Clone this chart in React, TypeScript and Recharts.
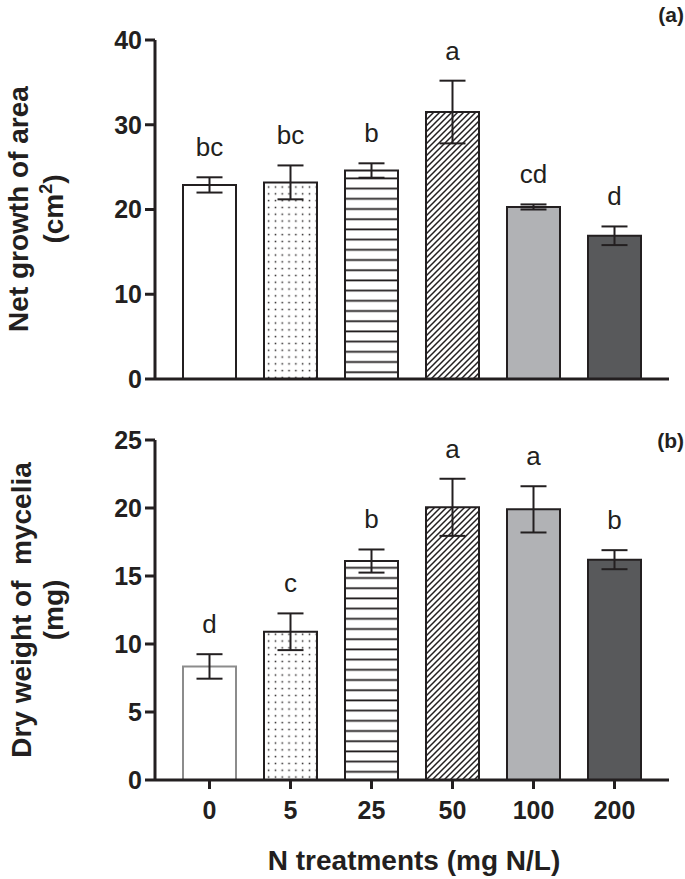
import { BarChart, Bar, XAxis, YAxis, ErrorBar, Cell, LabelList } from "recharts";

const treatments = ["0", "5", "25", "50", "100", "200"];

// (a) net growth of area, cm2
const areaMean = [22.9, 23.2, 24.6, 31.5, 20.3, 16.9];
const areaErr = [0.9, 2.0, 0.85, 3.7, 0.3, 1.1];
const areaLetters = ["bc", "bc", "b", "a", "cd", "d"];
const areaTicks = [0, 10, 20, 30, 40];

// (b) dry weight of mycelia, mg
const weightMean = [8.35, 10.9, 16.1, 20.05, 19.9, 16.2];
const weightErr = [0.9, 1.35, 0.85, 2.1, 1.7, 0.7];
const weightLetters = ["d", "c", "b", "a", "a", "b"];
const weightTicks = [0, 5, 10, 15, 20, 25];

const ink = "#231f20";
const font = "'Liberation Sans', Arial, Helvetica, sans-serif";

type Row = { name: string; mean: number; err: number; letter: string };

const toRows = (means: number[], errs: number[], letters: string[]): Row[] =>
  treatments.map((name, i) => ({ name, mean: means[i], err: errs[i], letter: letters[i] }));

function makeLetter(rows: Row[]) {
  return (props: any) => {
    const vb = props.viewBox || {};
    const x = Number(props.x ?? vb.x);
    const y = Number(props.y ?? vb.y);
    const w = Number(props.width ?? vb.width);
    const h = Number(props.height ?? vb.height);
    const row = rows[props.index];
    if (!row) return null;
    const capTop = y - (row.err / row.mean) * h;
    return (
      <text x={x + w / 2} y={capTop - 21} textAnchor="middle" fontSize={26} fill={ink} fontFamily={font}>
        {row.letter}
      </text>
    );
  };
}

function Panel({
  id,
  rows,
  ticks,
  height,
  margin,
  xHeight,
  showLabels,
  firstStroke,
}: {
  id: string;
  rows: Row[];
  ticks: number[];
  height: number;
  margin: { top: number; right: number; left: number; bottom: number };
  xHeight: number;
  showLabels: boolean;
  firstStroke: string;
}) {
  const fills = ["#ffffff", `url(#${id}-dots)`, `url(#${id}-lines)`, `url(#${id}-hatch)`, "#b1b2b5", "#58595b"];
  const tickStyle = { fontSize: 25, fontWeight: 700, fill: ink, fontFamily: font };
  return (
    <BarChart width={685} height={height} data={rows} margin={margin}>
      <defs>
        <pattern id={`${id}-dots`} width={6.8} height={6.8} patternUnits="userSpaceOnUse">
          <rect width={6.8} height={6.8} fill="#fff" />
          <rect x={2.7} y={2.7} width={1.5} height={1.5} fill={ink} />
        </pattern>
        <pattern id={`${id}-lines`} width={10} height={10.2} patternUnits="userSpaceOnUse">
          <rect width={10} height={10.2} fill="#fff" />
          <line x1={0} x2={10} y1={5} y2={5} stroke={ink} strokeWidth={1.8} />
        </pattern>
        <pattern id={`${id}-hatch`} width={6} height={6} patternUnits="userSpaceOnUse">
          <rect width={6} height={6} fill="#fff" />
          <path d="M-1,1 L1,-1 M0,6 L6,0 M5,7 L7,5" stroke={ink} strokeWidth={1.5} />
        </pattern>
      </defs>
      <XAxis
        dataKey="name"
        interval={0}
        height={xHeight}
        padding={{ left: 14, right: 14 }}
        axisLine={{ stroke: ink, strokeWidth: 3 }}
        tickLine={{ stroke: ink, strokeWidth: 3 }}
        tickSize={9}
        tickMargin={12}
        tick={showLabels ? tickStyle : false}
      />
      <YAxis
        type="number"
        width={60}
        domain={[0, ticks[ticks.length - 1]]}
        ticks={ticks}
        interval={0}
        axisLine={{ stroke: ink, strokeWidth: 3 }}
        tickLine={{ stroke: ink, strokeWidth: 3 }}
        tickSize={10}
        tickMargin={3}
        tick={tickStyle}
      />
      <Bar dataKey="mean" barSize={53} isAnimationActive={false}>
        {rows.map((r, i) => (
          <Cell key={r.name} fill={fills[i]} stroke={i === 0 ? firstStroke : ink} strokeWidth={2} />
        ))}
        <ErrorBar dataKey="err" width={13} stroke={ink} strokeWidth={2} isAnimationActive={false} />
        <LabelList dataKey="letter" content={makeLetter(rows)} />
      </Bar>
    </BarChart>
  );
}

export default function App() {
  const areaRows = toRows(areaMean, areaErr, areaLetters);
  const weightRows = toRows(weightMean, weightErr, weightLetters);
  const title = { fontFamily: font, fontWeight: 700, fill: ink } as const;

  return (
    <div style={{ position: "absolute", left: 0, top: 0, width: 685, height: 879, background: "#fff" }}>
      <div style={{ position: "absolute", left: 0, top: 0 }}>
        <Panel
          id="a"
          rows={areaRows}
          ticks={areaTicks}
          height={420}
          margin={{ top: 40, right: 16, left: 95, bottom: 21 }}
          xHeight={20}
          showLabels={false}
          firstStroke={ink}
        />
      </div>
      <div style={{ position: "absolute", left: 0, top: 420 }}>
        <Panel
          id="b"
          rows={weightRows}
          ticks={weightTicks}
          height={459}
          margin={{ top: 20, right: 16, left: 95, bottom: 39 }}
          xHeight={60}
          showLabels={true}
          firstStroke="#8c8c8c"
        />
      </div>
      <svg width={685} height={879} style={{ position: "absolute", left: 0, top: 0, pointerEvents: "none" }}>
        <text x={28} y={209} transform="rotate(-90 28 209)" textAnchor="middle" fontSize={28} {...title}>
          Net growth of area
        </text>
        <text x={63} y={209} transform="rotate(-90 63 209)" textAnchor="middle" fontSize={28} {...title}>
          (cm<tspan fontSize={18} dy={-11}>2</tspan>
          <tspan dy={11}>)</tspan>
        </text>
        <text x={31} y={610} transform="rotate(-90 31 610)" textAnchor="middle" fontSize={28} {...title}>
          {"Dry weight of\u00a0\u00a0mycelia"}
        </text>
        <text x={63} y={610} transform="rotate(-90 63 610)" textAnchor="middle" fontSize={28} {...title}>
          (mg)
        </text>
        <text x={414} y={870} textAnchor="middle" fontSize={28} {...title}>
          N treatments (mg N/L)
        </text>
        <text x={684} y={22} textAnchor="end" fontSize={21} {...title}>
          (a)
        </text>
        <text x={684} y={448} textAnchor="end" fontSize={21} {...title}>
          (b)
        </text>
      </svg>
    </div>
  );
}
